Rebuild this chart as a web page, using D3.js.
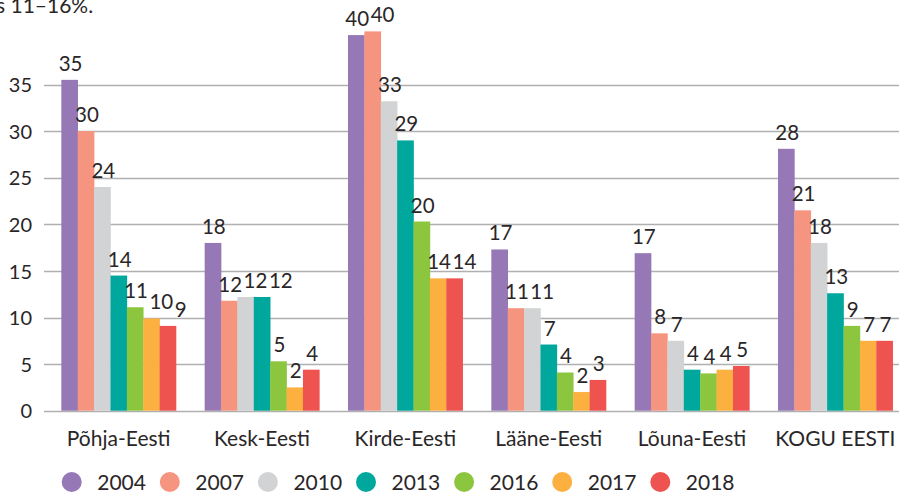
<!DOCTYPE html>
<html>
<head>
<meta charset="utf-8">
<script src="https://cdn.jsdelivr.net/npm/d3@7"></script>
<style>
  html, body { margin: 0; padding: 0; background: #fff; }
  svg { display: block; }
  text { font-family: Lato, "Open Sans", sans-serif; font-weight: 400; fill: #2a2627; }
</style>
</head>
<body>
<svg id="chart" width="899" height="494"></svg>
<script>
// ---- data ----
const categories = ["Põhja-Eesti", "Kesk-Eesti", "Kirde-Eesti", "Lääne-Eesti", "Lõuna-Eesti", "KOGU EESTI"];
const years = ["2004", "2007", "2010", "2013", "2016", "2017", "2018"];
const colors = ["#9678b6", "#f6957f", "#d1d3d4", "#00a79d", "#8cc63f", "#fbb040", "#ef5350"];

const v2004 = [35.5, 18.0, 40.3, 17.3, 16.9, 28.1];
const v2007 = [30.0, 11.8, 40.7, 11.0, 8.3, 21.5];
const v2010 = [24.0, 12.2, 33.2, 11.0, 7.5, 18.0];
const v2013 = [14.5, 12.2, 29.0, 7.1, 4.4, 12.6];
const v2016 = [11.1, 5.3, 20.3, 4.1, 4.0, 9.1];
const v2017 = [9.9, 2.5, 14.2, 2.0, 4.4, 7.5];
const v2018 = [9.1, 4.4, 14.2, 3.3, 4.8, 7.5];

const l2004 = ["35", "18", "40", "17", "17", "28"];
const l2007 = ["30", "12", "40", "11", "8", "21"];
const l2010 = ["24", "12", "33", "11", "7", "18"];
const l2013 = ["14", "12", "29", "7", "4", "13"];
const l2016 = ["11", "5", "20", "4", "4", "9"];
const l2017 = ["10", "2", "14", "2", "4", "7"];
const l2018 = ["9", "4", "14", "3", "5", "7"];

const yTicks = [0, 5, 10, 15, 20, 25, 30, 35];
const introText = "s 11–16%.";

const seriesValues = [v2004, v2007, v2010, v2013, v2016, v2017, v2018];
const seriesLabels = [l2004, l2007, l2010, l2013, l2016, l2017, l2018];

// ---- chart ----
const svg = d3.select("#chart");

const x0 = d3.scaleBand().domain(categories).range([47, 907]).paddingInner(0.2).paddingOuter(0.1);
const x1 = d3.scaleBand().domain(years).range([0, x0.bandwidth()]).padding(0);
const y = d3.scaleLinear().domain([0, 35]).range([410.7, 84.5]);

// intro text (cut paragraph, as in the source page)
svg.append("text").attr("x", -4).attr("y", 13).attr("font-size", 21).text(introText);

// y axis labels
const yAxis = d3.axisLeft(y).tickValues(yTicks).tickSize(0).tickPadding(0);
const gAxis = svg.append("g").attr("transform", "translate(32,0)").call(yAxis);
gAxis.select(".domain").remove();
gAxis.selectAll("text").attr("font-size", 20).attr("font-family", null).attr("fill", null).attr("dy", "0.36em");

// gridlines
svg.append("g").selectAll("line").data(yTicks).join("line")
  .attr("x1", 44).attr("x2", 899)
  .attr("y1", d => Math.round(y(d)) + 0.5).attr("y2", d => Math.round(y(d)) + 0.5)
  .attr("stroke", "#b0b0b0").attr("stroke-width", 1.3);

// bars
const groups = svg.append("g").selectAll("g").data(categories).join("g")
  .attr("transform", d => `translate(${x0(d)},0)`);

groups.each(function(cat, ci) {
  const g = d3.select(this);
  const rows = years.map((yr, si) => ({ yr, si, v: seriesValues[si][ci], l: seriesLabels[si][ci] }));
  g.selectAll("rect").data(rows).join("rect")
    .attr("x", d => x1(d.yr))
    .attr("width", x1.bandwidth() + 0.3)
    .attr("y", d => y(d.v))
    .attr("height", d => y(0) - y(d.v))
    .attr("fill", d => colors[d.si]);
  const labels = g.selectAll("text").data(rows).join("text")
    .attr("x", d => x1(d.yr) + x1.bandwidth() / 2 + 1)
    .attr("y", d => y(d.v) - 9)
    .attr("text-anchor", "middle")
    .attr("font-size", 20.5)
    .text(d => d.l);
  // simple collision nudge: shift right if overlapping previous label
  const gap = 1.5;
  let prev = null;
  labels.each(function() {
    const el = d3.select(this);
    const b = this.getBBox();
    if (prev && b.x < prev.x + prev.width + gap && Math.abs(b.y - prev.y) < b.height * 0.8) {
      const dx = prev.x + prev.width + gap - b.x;
      el.attr("x", +el.attr("x") + dx);
      prev = { x: b.x + dx, y: b.y, width: b.width, height: b.height };
    } else {
      prev = { x: b.x, y: b.y, width: b.width, height: b.height };
    }
  });
});

// category labels
svg.append("g").selectAll("text").data(categories).join("text")
  .attr("x", d => x0(d) + x0.bandwidth() / 2)
  .attr("y", 446)
  .attr("text-anchor", "middle")
  .attr("font-size", 21)
  .text(d => d);

// legend
const legend = svg.append("g").selectAll("g").data(years).join("g")
  .attr("transform", (d, i) => `translate(${71.7 + i * 98.1},482)`);
legend.append("circle").attr("r", 10).attr("fill", (d, i) => colors[i]);
legend.append("text").attr("x", 25.5).attr("y", 7.5).attr("font-size", 21).text(d => d);
</script>
</body>
</html>
